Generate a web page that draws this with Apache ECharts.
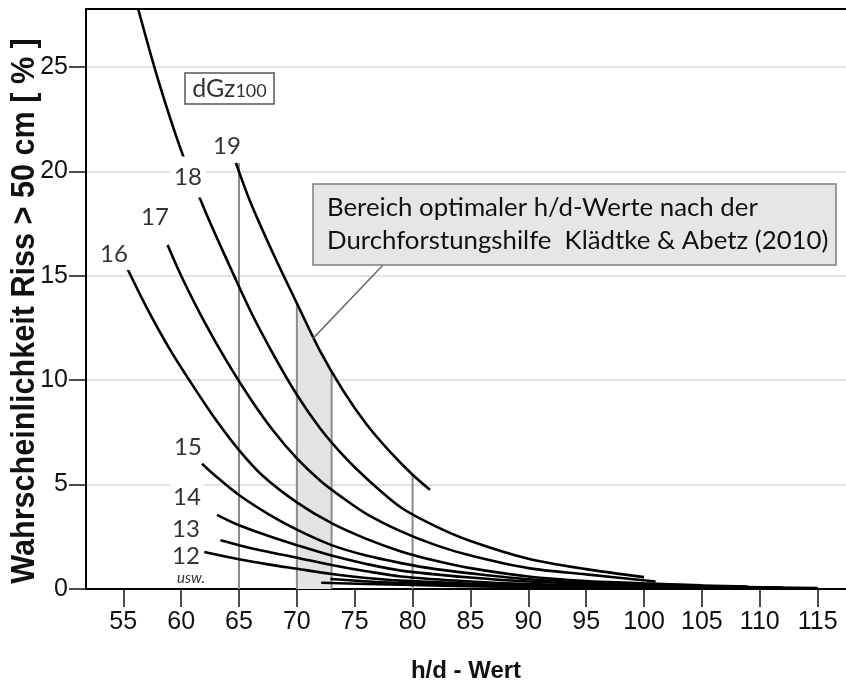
<!DOCTYPE html>
<html>
<head>
<meta charset="utf-8">
<script src="https://cdn.jsdelivr.net/npm/echarts@6/dist/echarts.min.js"></script>
<style>
  html, body { margin: 0; padding: 0; background: #fff; }
  #riss { width: 846px; height: 682px; }
</style>
</head>
<body>
<div id="riss"></div>
<script>
// achsen
const hdTicks = [55, 60, 65, 70, 75, 80, 85, 90, 95, 100, 105, 110, 115];
const pctTicks = [0, 5, 10, 15, 20, 25];

// kurven je dGz100 (h/d-Wert, Wahrscheinlichkeit %)
const dgz19 = [[64.73, 20.4], [66, 18.5], [68, 16.0], [70, 13.68], [72, 11.4], [74, 9.5], [76, 7.9], [78, 6.6], [80, 5.47], [81.5, 4.75]];
const dgz18 = [[56.29, 27.77], [58, 24.4], [60, 21.0], [62, 18.2], [64, 15.7], [66, 13.3], [68, 11.2], [70, 9.3], [72, 7.7], [74, 6.4], [76, 5.3], [79, 3.9], [82, 3.0], [85, 2.3], [90, 1.45], [95, 0.95], [100, 0.57]];
const dgz17 = [[58.83, 16.47], [60, 15.0], [62, 12.8], [64, 10.85], [66, 9.1], [68, 7.55], [70, 6.25], [72, 5.2], [74, 4.35], [76, 3.6], [79, 2.76], [82, 2.1], [85, 1.6], [90, 1.0], [95, 0.7], [101, 0.36]];
const dgz16 = [[55.38, 15.31], [57, 13.5], [59, 11.5], [61, 9.75], [63, 8.1], [65, 6.65], [67, 5.45], [70, 4.15], [73, 3.15], [76, 2.4], [79, 1.8], [82, 1.35], [85, 1.0], [90, 0.6], [95, 0.38], [100, 0.27], [105, 0.18]];
const dgz15 = [[61.8, 6.0], [63, 5.4], [65, 4.5], [67.5, 3.6], [70, 2.84], [73, 2.1], [76, 1.6], [79, 1.24], [82, 0.95], [85, 0.75], [90, 0.47], [95, 0.32], [100, 0.23], [109, 0.12]];
const dgz14 = [[63.1, 3.55], [65, 3.05], [67.5, 2.55], [70, 2.1], [73, 1.6], [76, 1.2], [79, 0.88], [85, 0.55], [90, 0.36], [100, 0.16], [112, 0.07]];
const dgz13 = [[63.4, 2.33], [65, 2.1], [67.5, 1.78], [70, 1.5], [73, 1.15], [76, 0.85], [79, 0.6], [85, 0.36], [90, 0.24], [100, 0.11], [115, 0.05]];
const dgz12 = [[62.0, 1.77], [65, 1.42], [67.5, 1.18], [70, 0.97], [73, 0.72], [76, 0.53], [79, 0.4], [85, 0.25], [90, 0.17], [100, 0.08], [115, 0.03]];
const dgz11 = [[72.9, 0.48], [79, 0.28], [90, 0.12], [100, 0.07], [115, 0.03]];
const dgz10 = [[72.1, 0.3], [79, 0.2], [90, 0.09], [100, 0.05], [115, 0.02]];

// senkrechte hilfslinien und bereich optimaler h/d-werte
const markerHd = [65, 70, 73, 80];
const markerTop = [20.4, 13.68, 10.45, 5.47];
const optimalBand = [[70, 13.68], [71, 12.5], [72, 11.4], [73, 10.45]];

const sans = "'Liberation Sans', Arial, sans-serif";
const calib = "Lato, 'Open Sans', sans-serif";

const curves = [dgz19, dgz18, dgz17, dgz16, dgz15, dgz14, dgz13, dgz12, dgz11, dgz10];

const series = [];
series.push({
  type: 'line',
  data: optimalBand,
  symbol: 'none',
  smooth: 0.3,
  lineStyle: { width: 0 },
  areaStyle: { color: '#e3e3e3', opacity: 1 },
  z: 1,
  silent: true,
});
markerHd.forEach((hd, i) => {
  series.push({
    type: 'line',
    data: [[hd, 0], [hd, markerTop[i]]],
    symbol: 'none',
    lineStyle: { color: '#8a8a8a', width: 2 },
    z: 2,
    silent: true,
  });
});
curves.forEach((c) => {
  series.push({
    type: 'line',
    data: c,
    symbol: 'none',
    smooth: 0.3,
    lineStyle: { color: '#000', width: 2.6 },
    z: 3,
    silent: true,
  });
});

const lbl = (text, x, y, pad) => ({
  type: 'text',
  x, y,
  z: 20,
  style: {
    text,
    font: '24px ' + calib,
    fill: '#333',
    align: 'center',
    verticalAlign: 'middle',
    backgroundColor: '#fff',
    padding: pad || [4, 3, 4, 3],
  },
});

const myChart = echarts.init(document.getElementById('riss'));
const option = {
  animation: false,
  grid: { left: 86, top: 9, right: 0, bottom: 93, outerBoundsMode: 'none', containLabel: false },
  xAxis: [{
    type: 'value',
    min: 51.78,
    max: 117.45,
    axisLine: { lineStyle: { color: '#000', width: 2 } },
    axisTick: { show: true, length: 18, customValues: hdTicks, lineStyle: { color: '#111', width: 1.5 } },
    axisLabel: { customValues: hdTicks, margin: 21, fontSize: 25, fontFamily: sans, color: '#111' },
    splitLine: { show: false },
    name: 'h/d - Wert',
    nameLocation: 'middle',
    nameGap: 70,
    nameTextStyle: { fontSize: 24, fontWeight: 'bold', fontFamily: sans, color: '#111' },
  }, {
    type: 'value',
    position: 'top',
    min: 51.78,
    max: 117.45,
    axisLine: { show: true, lineStyle: { color: '#000', width: 2 } },
    axisTick: { show: false },
    axisLabel: { show: false },
    splitLine: { show: false },
  }],
  yAxis: {
    type: 'value',
    min: 0,
    max: 27.77,
    interval: 5,
    axisLine: { show: true, lineStyle: { color: '#000', width: 2 } },
    axisTick: { show: true, length: 17, customValues: pctTicks, lineStyle: { color: '#111', width: 1.5 } },
    axisLabel: { customValues: pctTicks, margin: 18, fontSize: 25, fontFamily: sans, color: '#111' },
    splitLine: { show: true, lineStyle: { color: '#d9d9d9', width: 1.5 } },
  },
  series,
};
myChart.setOption(option);

const tip = myChart.convertToPixel({ gridIndex: 0 }, [71.4, 12.0]);
myChart.setOption({
  graphic: [
    {
      type: 'text', x: 25, y: 311, rotation: Math.PI / 2, scaleX: 0.9, z: 20,
      style: { text: 'Wahrscheinlichkeit Riss > 50 cm [ % ]', font: 'bold 34px ' + sans, fill: '#111', align: 'center', verticalAlign: 'middle' },
    },
    {
      type: 'rect', z: 15, shape: { x: 185, y: 73, width: 89, height: 31 },
      style: { fill: '#fff', stroke: '#555', lineWidth: 1.5 },
    },
    {
      type: 'text', x: 229.5, y: 89, z: 20,
      style: {
        text: '{a|dGz}{b|100}', align: 'center', verticalAlign: 'middle',
        rich: { a: { font: '25px ' + calib, fill: '#333' }, b: { font: '18px ' + calib, fill: '#333', padding: [4, 0, 0, 0] } },
      },
    },
    {
      type: 'line', z: 14, shape: { x1: 383, y1: 265, x2: tip[0], y2: tip[1] },
      style: { stroke: '#6a6a6a', lineWidth: 1.5 },
    },
    {
      type: 'rect', z: 15, shape: { x: 313, y: 184, width: 523, height: 81 },
      style: { fill: '#e6e6e6', stroke: '#7f7f7f', lineWidth: 1.5 },
    },
    {
      type: 'text', x: 327, y: 208, z: 20,
      style: { text: 'Bereich optimaler h/d-Werte nach der', font: '25.8px ' + calib, fill: '#111', verticalAlign: 'middle' },
    },
    {
      type: 'text', x: 327, y: 241, z: 20,
      style: { text: 'Durchforstungshilfe  Klädtke & Abetz (2010)', font: '25.8px ' + calib, fill: '#111', verticalAlign: 'middle' },
    },
    lbl('19', 227, 146),
    lbl('18', 188, 177, [10, 4, 7, 4]),
    lbl('17', 155, 217),
    lbl('16', 114, 254),
    lbl('15', 188, 447),
    lbl('14', 187, 497),
    lbl('13', 186, 529),
    lbl('12', 186, 556),
    {
      type: 'text', x: 191, y: 578, z: 20,
      style: { text: 'usw.', font: 'italic 15px ' + calib, fill: '#333', align: 'center', verticalAlign: 'middle' },
    },
  ],
});
</script>
</body>
</html>
